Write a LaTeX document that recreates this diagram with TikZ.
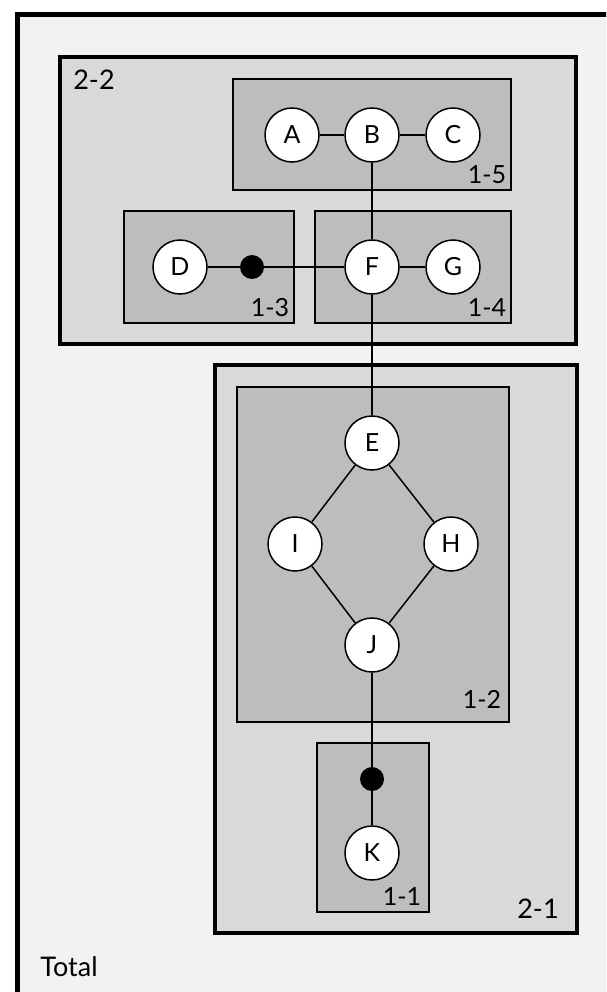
\documentclass[tikz,border=0pt]{standalone}
\usepackage{fontspec}
\setmainfont{Lato}
\definecolor{bgout}{HTML}{F2F2F2}
\definecolor{lvtwo}{HTML}{D9D9D9}
\definecolor{lvone}{HTML}{BDBDBD}
\begin{document}
\begin{tikzpicture}[x=1pt,y=-1pt,
  every node/.style={font=\fontsize{25}{28}\selectfont},
  bigbox/.style={fill=lvtwo,draw=black,line width=3.5pt},
  smallbox/.style={fill=lvone,draw=black,line width=1.3pt},
  vtx/.style={circle,draw=black,fill=white,line width=1.5pt,minimum size=54pt,inner sep=0pt},
  joint/.style={circle,fill=black,minimum size=24pt,inner sep=0pt},
  edge/.style={line width=1.5pt},
  lbl/.style={inner sep=0pt},
  biglbl/.style={inner sep=0pt,font=\fontsize{27}{30}\selectfont}]
\useasboundingbox (0,0) rectangle (606,992);
\fill[white] (0,0) rectangle (606,992);
\begin{scope}
\clip (0,0) rectangle (606,992);
\draw[fill=bgout,line width=5pt] (17,15) rectangle (640,1030);
\end{scope}
% level-2 boxes
\draw[bigbox] (60,57) rectangle (576,344);
\draw[bigbox] (215,365) rectangle (577,933);
% level-1 boxes
\draw[smallbox] (233,79) rectangle (511,190);
\draw[smallbox] (124,211) rectangle (294,323);
\draw[smallbox] (315,211) rectangle (511,323);
\draw[smallbox] (237,387) rectangle (509,722);
\draw[smallbox] (317,743) rectangle (429,912);
% labels
\node[biglbl] (l22) at (94,80) {2-2};
\node[lbl] (l15) at (487,175) {1-5};
\node[lbl] (l13) at (270,308) {1-3};
\node[lbl] (l14) at (487,308) {1-4};
\node[lbl] (l12) at (482,699) {1-2};
\node[lbl] (l11) at (402,897) {1-1};
\node[biglbl] (l21) at (538,909) {2-1};
\node[biglbl] (tot) at (69,967) {Total};
% vertices
\node[vtx] (A) at (292,135) {A};
\node[vtx] (B) at (372,135) {B};
\node[vtx] (C) at (453,135) {C};
\node[vtx] (D) at (180,267) {D};
\node[joint] (d1) at (252,267) {};
\node[vtx] (F) at (372,267) {F};
\node[vtx] (G) at (453,267) {G};
\node[vtx] (E) at (372,443) {E};
\node[vtx] (I) at (295,544) {I};
\node[vtx] (H) at (451,544) {H};
\node[vtx] (J) at (372,645) {J};
\node[joint] (d2) at (372,779) {};
\node[vtx] (K) at (372,853) {K};
% edges
\draw[edge] (A) -- (B);
\draw[edge] (B) -- (C);
\draw[edge] (B) -- (F);
\draw[edge] (D) -- (d1);
\draw[edge] (d1) -- (F);
\draw[edge] (F) -- (G);
\draw[edge] (F) -- (E);
\draw[edge] (E) -- (I);
\draw[edge] (E) -- (H);
\draw[edge] (I) -- (J);
\draw[edge] (H) -- (J);
\draw[edge] (J) -- (d2);
\draw[edge] (d2) -- (K);
\end{tikzpicture}
\end{document}
